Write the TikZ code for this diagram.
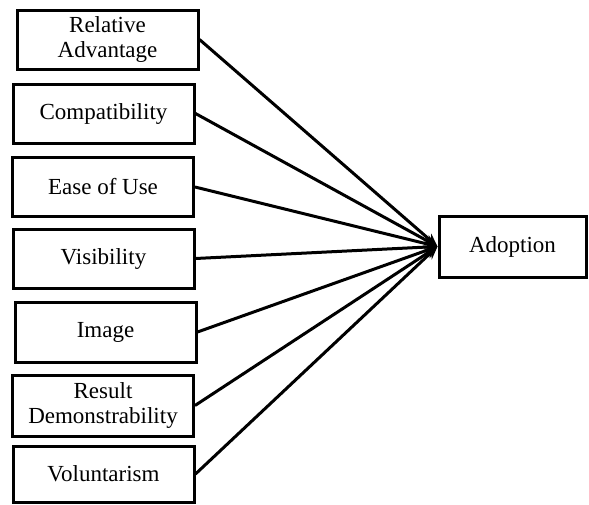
\documentclass[tikz,border=0pt]{standalone}
\usepackage{fontspec}
\setmainfont{Liberation Serif}
\usetikzlibrary{arrows.meta}
\begin{document}
\begin{tikzpicture}[x=1pt,y=-1pt,
  factor/.style={draw=black, line width=3pt, fill=white, minimum width=181pt,
    inner sep=0pt, align=center, font=\fontsize{23}{25}\selectfont},
  link/.style={line width=3pt, -{Stealth[length=13pt,width=11pt]}}]
  \useasboundingbox (0,0) rectangle (589,504);
  \node[factor, minimum height=59pt] (ra) at (107.5,39.5) {Relative\\Advantage};
  \node[factor, minimum height=59pt] (co) at (103.5,113.5) {Compatibility};
  \node[factor, minimum height=59pt] (eu) at (103,187) {Ease of Use};
  \node[factor, minimum height=59pt] (vi) at (103.5,258.5) {Visibility};
  \node[factor, minimum height=60pt] (im) at (105.5,332) {Image};
  \node[factor, minimum height=61pt] (rd) at (103,405.5) {Result\\Demonstrability};
  \node[factor, minimum height=56pt] (vo) at (103.5,474) {Voluntarism};
  \node[factor, minimum width=147pt, minimum height=61pt] (ad) at (512.5,246.5) {Adoption};
  \coordinate (hub) at (ad.west);
  \foreach \n in {ra,co,eu,vi,im,rd,vo}
    \draw[link] (\n.east) -- (hub);
\end{tikzpicture}
\end{document}
